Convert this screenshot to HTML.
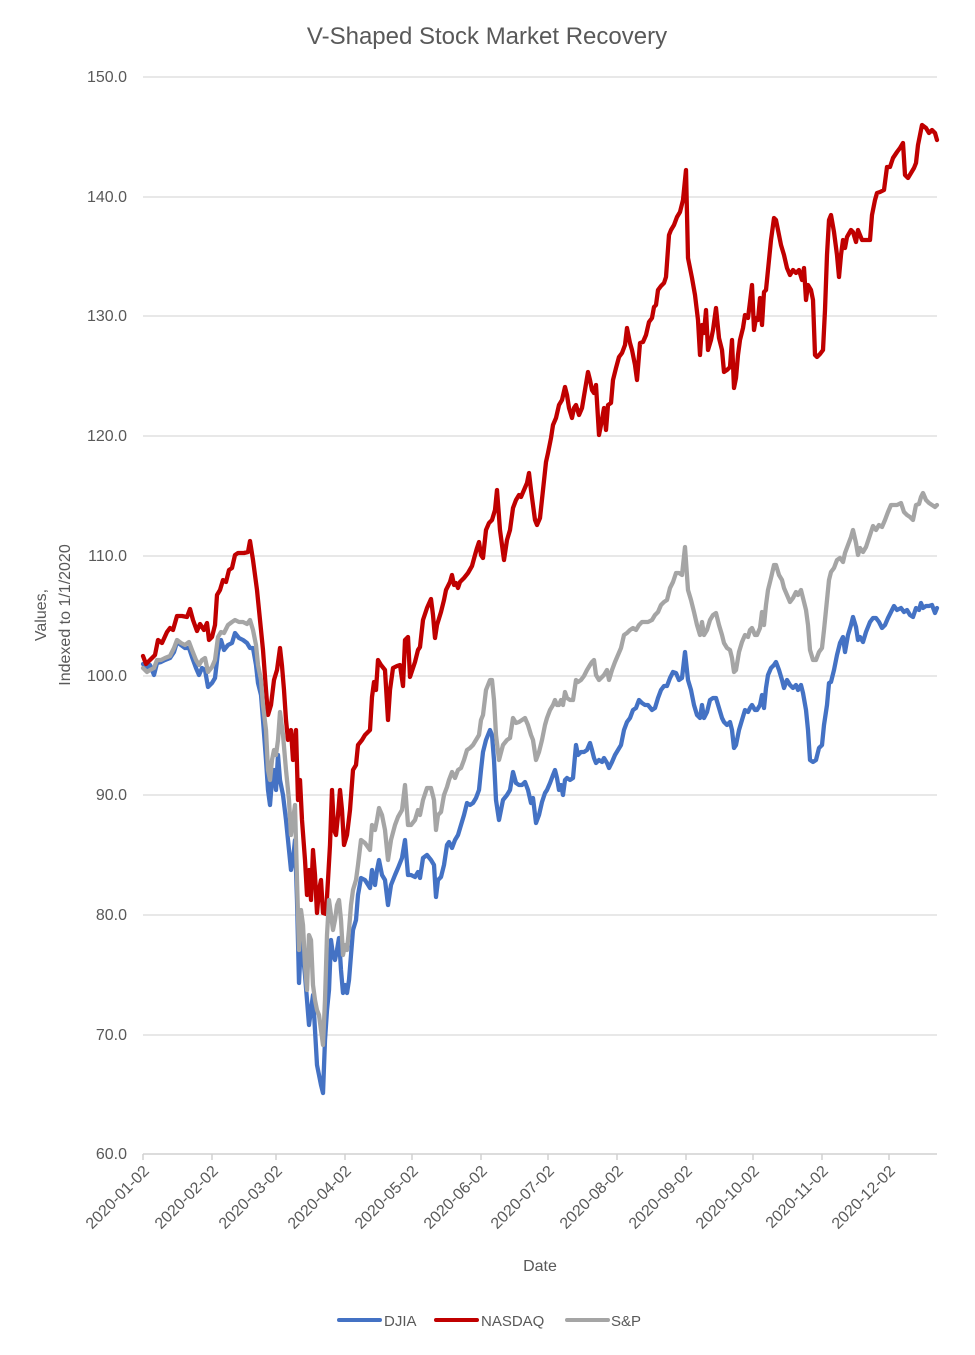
<!DOCTYPE html>
<html><head><meta charset="utf-8"><style>
body{margin:0;background:#fff;}
svg text{font-family:"Liberation Sans",sans-serif;fill:#595959;}
</style></head><body>
<svg width="975" height="1350" viewBox="0 0 975 1350" xmlns="http://www.w3.org/2000/svg">
<rect width="975" height="1350" fill="#fff"/>
<text x="487" y="44" font-size="24" text-anchor="middle">V-Shaped Stock Market Recovery</text>
<g stroke="#d9d9d9" stroke-width="1.3">
<line x1="143" x2="937" y1="77" y2="77"/><line x1="143" x2="937" y1="197" y2="197"/>
<line x1="143" x2="937" y1="316" y2="316"/><line x1="143" x2="937" y1="436" y2="436"/>
<line x1="143" x2="937" y1="556" y2="556"/><line x1="143" x2="937" y1="676" y2="676"/>
<line x1="143" x2="937" y1="795" y2="795"/><line x1="143" x2="937" y1="915" y2="915"/>
<line x1="143" x2="937" y1="1035" y2="1035"/>
</g>
<g stroke="#d0d0d0" stroke-width="1.5">
<line x1="143" x2="937" y1="1154" y2="1154"/>
<line x1="143" x2="143" y1="1154" y2="1160"/><line x1="212" x2="212" y1="1154" y2="1160"/>
<line x1="276" x2="276" y1="1154" y2="1160"/><line x1="345" x2="345" y1="1154" y2="1160"/>
<line x1="412" x2="412" y1="1154" y2="1160"/><line x1="481" x2="481" y1="1154" y2="1160"/>
<line x1="548" x2="548" y1="1154" y2="1160"/><line x1="617" x2="617" y1="1154" y2="1160"/>
<line x1="686" x2="686" y1="1154" y2="1160"/><line x1="753" x2="753" y1="1154" y2="1160"/>
<line x1="822" x2="822" y1="1154" y2="1160"/><line x1="889" x2="889" y1="1154" y2="1160"/>
</g>
<g font-size="16" text-anchor="end">
<text x="127" y="82">150.0</text><text x="127" y="202">140.0</text><text x="127" y="321">130.0</text>
<text x="127" y="441">120.0</text><text x="127" y="561">110.0</text><text x="127" y="681">100.0</text>
<text x="127" y="800">90.0</text><text x="127" y="920">80.0</text><text x="127" y="1040">70.0</text>
<text x="127" y="1159">60.0</text>
</g>
<g font-size="16" text-anchor="end">
<text transform="translate(150,1172) rotate(-45)">2020-01-02</text>
<text transform="translate(219,1172) rotate(-45)">2020-02-02</text>
<text transform="translate(283,1172) rotate(-45)">2020-03-02</text>
<text transform="translate(352,1172) rotate(-45)">2020-04-02</text>
<text transform="translate(419,1172) rotate(-45)">2020-05-02</text>
<text transform="translate(488,1172) rotate(-45)">2020-06-02</text>
<text transform="translate(555,1172) rotate(-45)">2020-07-02</text>
<text transform="translate(624,1172) rotate(-45)">2020-08-02</text>
<text transform="translate(693,1172) rotate(-45)">2020-09-02</text>
<text transform="translate(760,1172) rotate(-45)">2020-10-02</text>
<text transform="translate(829,1172) rotate(-45)">2020-11-02</text>
<text transform="translate(896,1172) rotate(-45)">2020-12-02</text>
</g>
<text x="540" y="1271" font-size="16" text-anchor="middle">Date</text>
<text transform="translate(46,615) rotate(-90)" font-size="16" text-anchor="middle">Values,</text>
<text transform="translate(70,615) rotate(-90)" font-size="16" text-anchor="middle">Indexed to 1/1/2020</text>
<g fill="none" stroke-width="4.3" stroke-linejoin="round" stroke-linecap="round">
<polyline stroke="#4472C4" points="143,664 147,668 150,665 154,675 157,663 161,662 165,660 170,658 174,652 177,642 181,645 185,648 189,648 192,657 196,668 199,675 202,668 205,670 208,687 212,683 215,678 218,652 221,640 224,650 228,645 232,643 235,633 239,638 243,640 247,643 250,648 253,648 256,665 258,683 261,695 263,720 266,760 268,790 270,805 272,780 274,770 276,790 278,755 280,780 283,795 286,820 289,850 291,870 293,860 295,840 297,900 299,983 301,940 303,955 305,975 307,1000 309,1025 311,1010 313,995 315,1030 317,1065 319,1075 321,1085 323,1093 325,1040 327,1010 329,990 331,940 333,955 335,960 337,950 339,938 341,970 343,993 345,985 347,993 349,980 351,955 353,930 356,920 358,895 361,878 365,880 370,888 372,870 375,885 377,870 379,860 382,875 385,880 388,905 391,885 395,875 398,868 402,858 405,840 408,875 411,875 415,877 418,872 420,878 423,858 427,855 431,860 434,865 436,897 438,880 441,877 444,865 447,845 449,842 452,848 455,840 458,835 461,825 464,815 467,803 470,805 473,803 476,798 479,790 481,770 483,752 486,740 490,730 492,735 494,760 496,800 499,820 503,800 507,795 510,790 513,772 516,783 519,785 522,785 525,782 528,790 531,803 533,798 536,823 539,815 542,802 545,793 547,790 550,783 553,775 555,770 557,778 559,790 561,785 563,795 565,780 567,778 570,780 573,778 576,745 578,755 581,752 584,752 587,750 590,743 592,750 594,758 596,763 599,760 602,762 604,758 607,763 609,768 612,762 615,755 618,750 621,745 624,730 627,722 630,718 633,710 636,708 639,700 642,703 645,705 648,705 652,710 655,708 658,698 661,690 664,686 667,686 670,678 673,672 676,673 679,680 682,678 685,652 688,680 691,690 694,705 697,715 700,718 702,705 704,718 707,712 710,700 713,698 716,698 719,708 722,718 724,722 727,725 730,722 732,730 734,748 736,745 739,730 742,720 745,710 748,712 750,708 752,705 755,710 757,710 760,705 762,695 764,708 766,688 768,675 771,668 774,665 776,662 779,670 782,680 784,688 787,680 790,685 793,688 796,685 798,690 801,685 803,693 806,710 808,730 810,760 813,762 816,760 819,748 822,745 824,725 827,705 829,683 831,682 834,670 837,655 840,643 843,637 845,652 848,635 851,625 853,617 856,627 858,640 860,637 863,642 866,632 870,622 873,618 876,618 879,622 882,628 885,625 888,618 891,612 894,606 897,610 901,608 904,612 907,610 910,615 913,617 916,608 919,610 921,603 923,608 926,606 929,606 932,605 935,613 937,608"/>
<polyline stroke="#C00000" points="143,656 146,664 150,660 155,655 158,640 162,643 167,632 170,628 173,630 177,616 182,616 187,617 190,609 193,620 197,631 200,624 204,630 207,623 209,640 212,637 215,625 217,595 220,590 223,580 226,582 229,570 232,568 235,555 238,553 244,553 248,552 250,541 253,560 257,590 260,620 263,650 266,690 268,715 271,705 274,680 277,670 280,648 282,666 284,690 286,720 288,740 291,730 293,760 296,730 298,800 300,780 302,820 305,860 307,895 309,870 311,900 313,850 315,875 317,913 319,890 321,880 323,913 326,914 328,880 330,845 332,790 334,830 336,835 338,815 340,790 342,810 344,845 347,835 350,810 353,770 356,765 358,745 362,740 365,735 370,730 372,697 374,682 376,690 378,660 381,665 385,670 388,720 390,690 393,668 397,666 400,665 403,686 405,640 408,637 410,677 413,668 415,662 418,650 420,647 423,620 427,608 431,599 433,615 435,638 437,625 441,612 444,600 446,590 450,582 452,575 454,585 456,583 458,588 460,582 464,578 468,573 472,566 475,555 477,548 479,542 481,555 483,558 486,530 489,523 492,520 495,510 497,490 500,530 504,560 507,540 510,530 513,508 516,500 519,495 521,497 524,490 527,483 529,473 531,490 533,505 535,520 537,525 540,518 543,490 546,462 548,453 551,438 553,425 556,418 559,405 562,400 565,387 567,395 569,408 572,418 574,408 576,405 579,415 582,408 585,390 588,372 590,380 592,390 594,393 596,385 599,435 601,425 604,408 606,430 608,405 611,403 613,380 616,368 619,357 622,353 625,345 627,328 630,343 632,350 635,365 637,380 640,343 643,342 646,335 649,322 652,318 654,307 656,305 658,290 661,286 664,283 666,277 669,235 671,230 674,225 677,217 680,212 683,200 686,170 688,258 692,278 695,295 698,320 700,355 702,325 704,333 706,310 708,350 711,340 713,330 716,308 719,338 722,350 724,372 727,370 730,367 732,340 734,388 736,378 738,355 740,340 743,328 745,315 748,318 750,302 752,285 754,330 756,318 758,320 760,298 762,325 764,292 766,290 768,270 771,240 774,218 776,220 778,230 781,245 784,255 787,268 790,275 793,270 796,273 799,270 802,280 804,268 806,300 808,285 811,290 813,300 815,355 817,357 820,354 823,350 825,310 827,255 829,220 831,215 834,232 837,255 839,277 841,255 843,240 845,248 847,237 851,230 853,232 856,242 858,230 862,240 866,240 870,240 872,215 875,200 877,193 880,192 884,190 887,167 890,167 893,158 897,152 900,148 903,143 905,175 908,178 911,173 914,168 916,163 918,145 922,125 926,128 929,133 932,130 935,133 937,140"/>
<polyline stroke="#A5A5A5" points="143,668 147,672 150,670 154,668 157,660 161,660 165,658 170,656 174,648 177,640 181,643 185,645 189,642 192,650 196,660 199,665 202,660 205,658 208,672 212,667 215,660 218,637 221,632 224,633 228,625 232,622 235,620 239,622 243,622 247,624 250,620 253,630 256,645 258,665 261,680 263,705 266,730 268,770 270,780 272,760 274,750 276,755 278,740 280,712 283,735 286,770 289,800 291,835 293,820 295,805 297,880 299,950 301,910 303,925 305,965 307,990 309,935 311,940 313,985 315,1000 317,1010 319,1015 321,1030 323,1045 325,1000 327,935 329,900 331,915 333,930 335,920 337,905 339,900 341,920 343,955 345,945 347,950 349,930 351,905 353,890 356,880 358,865 361,840 365,843 370,850 372,825 375,830 377,820 379,808 382,815 385,830 388,860 391,840 395,825 398,817 402,810 405,785 408,825 411,825 415,820 418,810 420,815 423,800 427,788 431,788 434,800 436,830 438,815 441,812 444,795 447,787 449,780 452,772 455,778 458,770 461,768 464,760 467,750 470,748 473,745 476,740 479,735 481,720 483,715 486,690 490,680 492,680 494,700 496,735 499,760 503,745 507,740 510,738 513,718 516,723 519,722 522,720 525,718 528,725 531,735 533,740 536,760 539,752 542,740 545,725 547,718 550,710 553,705 555,700 557,705 559,705 561,700 563,705 565,692 567,698 570,700 573,700 576,680 578,682 581,680 584,676 587,670 590,665 592,662 594,660 596,675 599,680 602,677 604,675 607,670 609,680 612,670 615,662 618,655 621,648 624,635 627,633 630,630 633,628 636,630 639,625 642,622 645,622 648,622 652,620 655,615 658,612 661,605 664,602 667,600 670,588 673,582 676,573 679,573 682,575 685,547 688,590 691,600 694,612 697,625 700,635 702,622 704,635 707,630 710,620 713,615 716,613 719,625 722,635 724,643 727,648 730,650 732,658 734,672 736,670 739,652 742,642 745,635 748,637 750,630 752,628 755,635 757,635 760,628 762,612 764,625 766,605 768,590 771,578 774,565 776,565 779,575 782,580 784,588 787,595 790,602 793,598 796,592 798,595 801,590 803,598 806,610 808,625 810,650 813,660 816,660 819,652 822,648 824,630 827,600 829,580 831,572 834,568 837,560 840,558 843,562 845,553 848,545 851,537 853,530 856,543 858,555 860,548 863,552 866,547 870,535 873,526 876,530 879,525 882,527 885,520 888,512 891,505 894,505 897,505 901,503 904,512 907,515 910,517 913,520 916,505 919,504 921,497 923,493 926,500 929,503 932,505 935,507 937,505"/>
</g>
<g stroke-width="4" stroke-linecap="round">
<line x1="339" x2="380" y1="1320" y2="1320" stroke="#4472C4"/>
<line x1="436" x2="477" y1="1320" y2="1320" stroke="#C00000"/>
<line x1="567" x2="608" y1="1320" y2="1320" stroke="#A5A5A5"/>
</g>
<g font-size="15">
<text x="384" y="1326">DJIA</text>
<text x="481" y="1326">NASDAQ</text>
<text x="611" y="1326">S&amp;P</text>
</g>
</svg>
</body></html>
